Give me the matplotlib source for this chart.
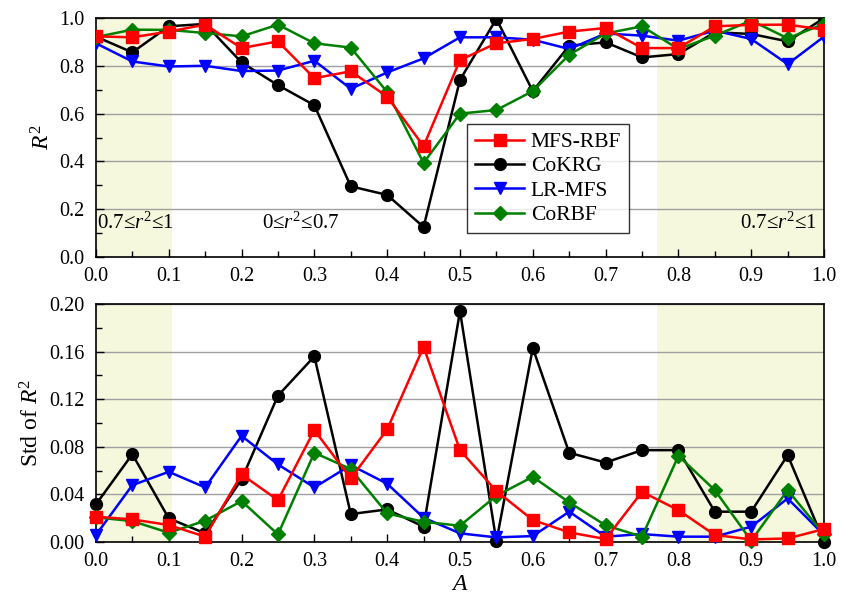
import matplotlib
matplotlib.use("Agg")
import matplotlib.pyplot as plt
from matplotlib.ticker import MultipleLocator, FormatStrFormatter

plt.rcParams['font.family'] = ['Liberation Serif', 'DejaVu Serif']
plt.rcParams['mathtext.fontset'] = 'custom'
plt.rcParams['mathtext.rm'] = 'Liberation Serif'
plt.rcParams['mathtext.it'] = 'Liberation Serif:italic'

A = [0.0, 0.05, 0.1, 0.15, 0.2, 0.25, 0.3, 0.35, 0.4, 0.45, 0.5,
     0.55, 0.6, 0.65, 0.7, 0.75, 0.8, 0.85, 0.9, 0.95, 1.0]

r2_mfs_rbf = [0.923, 0.919, 0.943, 0.972, 0.874, 0.902, 0.748, 0.777, 0.671, 0.464, 0.824,
              0.894, 0.912, 0.943, 0.958, 0.874, 0.874, 0.965, 0.971, 0.972, 0.951]
r2_cokrg = [0.922, 0.856, 0.965, 0.975, 0.814, 0.719, 0.635, 0.296, 0.26, 0.126, 0.741,
            0.996, 0.694, 0.884, 0.898, 0.835, 0.849, 0.94, 0.933, 0.902, 0.999]
r2_lr_mfs = [0.894, 0.818, 0.797, 0.8, 0.778, 0.78, 0.821, 0.704, 0.772, 0.831, 0.919,
             0.919, 0.909, 0.87, 0.935, 0.926, 0.905, 0.947, 0.912, 0.807, 0.922]
r2_corbf = [0.92, 0.951, 0.95, 0.937, 0.923, 0.972, 0.894, 0.876, 0.69, 0.394, 0.6,
            0.615, 0.694, 0.846, 0.935, 0.965, 0.87, 0.926, 0.989, 0.915, 0.975]

std_mfs_rbf = [0.0213, 0.019, 0.0143, 0.0045, 0.0568, 0.0352, 0.094, 0.0534, 0.0946, 0.164, 0.0772,
               0.0428, 0.0185, 0.0081, 0.0025, 0.0422, 0.0268, 0.0059, 0.0022, 0.003, 0.0109]
std_cokrg = [0.0316, 0.0738, 0.0199, 0.0073, 0.0526, 0.123, 0.156, 0.0235, 0.0274, 0.0129, 0.194,
             0.0005, 0.163, 0.075, 0.0668, 0.0772, 0.0772, 0.0255, 0.0255, 0.073, 0.0003]
std_lr_mfs = [0.0059, 0.0478, 0.059, 0.0459, 0.0892, 0.0652, 0.0459, 0.0646, 0.049, 0.0204, 0.0073,
              0.0039, 0.005, 0.0255, 0.0045, 0.0067, 0.0045, 0.0045, 0.0129, 0.0366, 0.0059]
std_corbf = [0.0207, 0.0176, 0.0078, 0.0179, 0.0344, 0.0064, 0.075, 0.0613, 0.024, 0.017, 0.0137,
             0.0389, 0.0548, 0.0333, 0.014, 0.0045, 0.0724, 0.0436, 0.0011, 0.0436, 0.0064]

labels = ['MFS-RBF', 'CoKRG', 'LR-MFS', 'CoRBF']
colors = ['#ff0000', '#000000', '#0000ff', '#008000']
markers = ['s', 'o', 'v', 'D']
msizes = [8, 8.5, 8.5, 7.5]

region_texts = [r'0.7≤$\mathit{r}^2$≤1', r'0≤$\mathit{r}^2$≤0.7', r'0.7≤$\mathit{r}^2$≤1']

shade_regions = [(0.0, 0.104), (0.771, 1.0)]
shade_color = '#f5f8dc'

TICK_FS = 14.5
LABEL_FS = 17

fig = plt.figure(figsize=(8.49, 5.98), dpi=100)
ax1 = fig.add_axes([0.113, 0.570, 0.8576, 0.400])
ax2 = fig.add_axes([0.113, 0.0936, 0.8576, 0.398])

def style(ax):
    for lo, hi in shade_regions:
        ax.axvspan(lo, hi, color=shade_color, zorder=0, lw=0)
    ax.set_xlim(0, 1.0)
    ax.xaxis.set_major_locator(MultipleLocator(0.1))
    ax.xaxis.set_minor_locator(MultipleLocator(0.05))
    ax.xaxis.set_major_formatter(FormatStrFormatter('%.1f'))
    ax.tick_params(which='both', direction='in', top=False, right=False, labelsize=TICK_FS)
    ax.tick_params(which='major', length=6, width=1)
    ax.tick_params(which='minor', length=4, width=1)
    ax.tick_params(axis='x', which='major', pad=7)
    ax.tick_params(axis='y', which='major', pad=8)
    ax.grid(axis='y', which='major', color='#a0a0a0', lw=1, zorder=1)
    ax.set_axisbelow(True)
    for s in ax.spines.values():
        s.set_linewidth(1.2)

r2_series = [r2_mfs_rbf, r2_cokrg, r2_lr_mfs, r2_corbf]
std_series = [std_mfs_rbf, std_cokrg, std_lr_mfs, std_corbf]

style(ax1)
order = [1, 2, 3, 0]
handles = {}
for i in order:
    h, = ax1.plot(A, r2_series[i], color=colors[i], marker=markers[i], ms=msizes[i],
                  lw=1.8, label=labels[i], zorder=3)
    handles[i] = h
ax1.set_ylim(0, 1.0)
ax1.yaxis.set_major_locator(MultipleLocator(0.2))
ax1.yaxis.set_minor_locator(MultipleLocator(0.1))
ax1.yaxis.set_major_formatter(FormatStrFormatter('%.1f'))
ax1.set_ylabel(r'$\mathit{R}^2$', fontsize=LABEL_FS, labelpad=4)
leg = ax1.legend([handles[i] for i in range(4)], labels, loc='lower left',
                 bbox_to_anchor=(0.510, 0.102), borderaxespad=0, fontsize=15.5,
                 frameon=True, fancybox=False, edgecolor='black', handlelength=2.3,
                 borderpad=0.35, labelspacing=0.2, handletextpad=0.3)
leg.get_frame().set_linewidth(1.0)
leg.set_zorder(5)

ax1.text(0.002, 0.143, region_texts[0], fontsize=15, ha='left', va='center')
ax1.text(0.281, 0.143, region_texts[1], fontsize=15, ha='center', va='center')
ax1.text(0.990, 0.143, region_texts[2], fontsize=15, ha='right', va='center')

style(ax2)
for i in order:
    ax2.plot(A, std_series[i], color=colors[i], marker=markers[i], ms=msizes[i],
             lw=1.8, zorder=3, clip_on=False)
ax2.set_ylim(0, 0.20)
ax2.yaxis.set_major_locator(MultipleLocator(0.04))
ax2.yaxis.set_minor_locator(MultipleLocator(0.02))
ax2.yaxis.set_major_formatter(FormatStrFormatter('%.2f'))
ax2.set_ylabel(r'Std of $\mathit{R}^2$', fontsize=LABEL_FS, labelpad=4)
ax2.set_xlabel(r'$\mathit{A}$', fontsize=LABEL_FS, labelpad=2)

fig.savefig('out.png', dpi=100)
